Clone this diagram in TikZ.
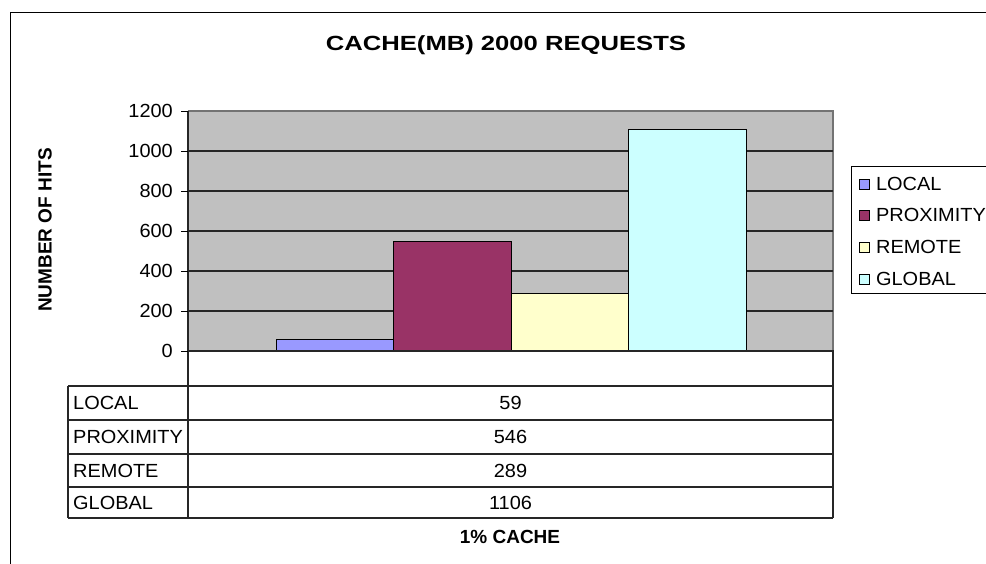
\documentclass[tikz,border=0pt]{standalone}
\usepackage{fontspec}
\setmainfont{Liberation Sans}
\usetikzlibrary{positioning}

\definecolor{localfill}{HTML}{9999FF}
\definecolor{proxfill}{HTML}{993366}
\definecolor{remotefill}{HTML}{FFFFCC}
\definecolor{globalfill}{HTML}{CCFFFF}
\definecolor{plotbg}{HTML}{C0C0C0}

\begin{document}
\begin{tikzpicture}[
    x=1pt, y=-1pt,
    lbl/.style={font=\fontsize{19}{22}\selectfont, inner sep=0pt, xscale=1.05},
    heading/.style={font=\fontsize{19}{22}\selectfont\bfseries, inner sep=0pt},
    gridline/.style={line width=1.5pt, black!85},
    rule/.style={line width=1.3pt, black!85},
    bar/.style={draw=black, line width=0.9pt},
    swatch/.style={draw=black, line width=0.8pt, minimum size=10pt, inner sep=0pt}
  ]
  \useasboundingbox (0,0) rectangle (986,563);
  \fill[white] (0,0) rectangle (986,563);

  % outer chart frame, cut off at right and bottom
  \draw[line width=1pt] (992,12) -- (10,12) -- (10,570);

  \node[heading, font=\fontsize{20.5}{24}\selectfont\bfseries, xscale=1.25] (title) at (506,45) {CACHE(MB) 2000 REQUESTS};

  % plot area and grid
  \fill[plotbg] (188,111) rectangle (833,351);
  \draw[line width=1.3pt, black!55] (188,111) -- (833,111) -- (833,351);
  \foreach \v in {200,400,...,1000}
    \draw[gridline] (188,{351-\v*0.2}) -- (833,{351-\v*0.2});

  % bars
  \foreach \x/\v/\c in {276/59/localfill, 393.5/546/proxfill, 511/289/remotefill, 628.5/1106/globalfill}
    \draw[bar, fill=\c] (\x,351) rectangle ({\x+117.5},{351-\v*0.2});

  % value axis
  \draw[rule] (188,111) -- (188,518);
  \foreach \v in {0,200,...,1200} {
    \draw[line width=1pt] (181,{351-\v*0.2}) -- (188,{351-\v*0.2});
    \node[lbl, anchor=east] (tick\v) at (173,{351-\v*0.2}) {\v};
  }
  \node[heading, rotate=90] (ytitle) at (45,230) {NUMBER OF HITS};

  % data table below the plot
  \draw[rule] (188,351) -- (833,351) -- (833,518);
  \draw[rule] (68,386) -- (68,518);
  \foreach \yy in {386,420,454,487,518}
    \draw[rule] (68,\yy) -- (833,\yy);
  \foreach \name/\val/\yy in {LOCAL/59/403, PROXIMITY/546/437, REMOTE/289/470.5, GLOBAL/1106/502.5} {
    \node[lbl, anchor=west] (row\name) at (73,\yy) {\name};
    \node[lbl] (val\name) at (510.5,\yy) {\val};
  }
  \node[heading] (xtitle) at (510,537) {1\% CACHE};

  % legend
  \draw[line width=1pt, fill=white] (851,166) rectangle (992,293);
  \foreach \name/\c/\yy in {LOCAL/localfill/184, PROXIMITY/proxfill/215, REMOTE/remotefill/247, GLOBAL/globalfill/279} {
    \node[swatch, fill=\c] (key\name) at (864.5,\yy) {};
    \node[lbl, anchor=west, right=6pt of key\name] (leg\name) {\name};
  }
\end{tikzpicture}
\end{document}
